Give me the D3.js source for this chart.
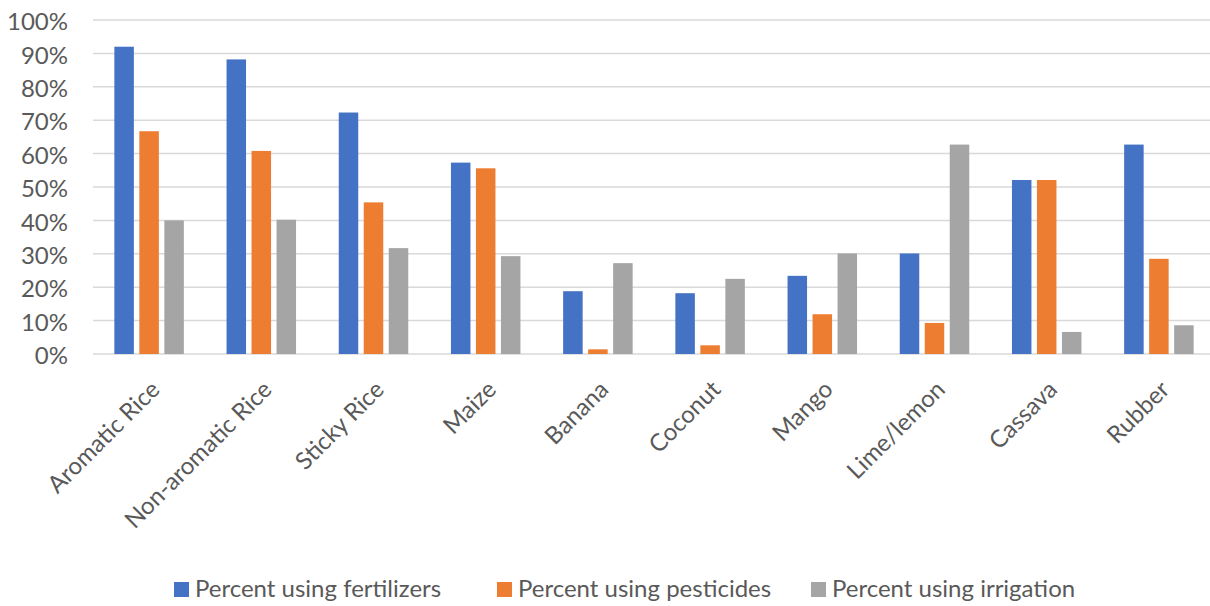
<!DOCTYPE html>
<html>
<head>
<meta charset="utf-8">
<script src="https://cdn.jsdelivr.net/npm/d3@7/dist/d3.min.js"></script>
<style>
  html, body { margin: 0; padding: 0; background: #fff; }
  svg { display: block; }
  text { font-family: Lato, "Noto Sans", sans-serif; fill: #595959; }
</style>
</head>
<body>
<svg id="chart" width="1210" height="606"></svg>
<script>
// Crops and the share of farms using each input
const crops = ["Aromatic Rice", "Non-aromatic Rice", "Sticky Rice", "Maize", "Banana",
               "Coconut", "Mango", "Lime/lemon", "Cassava", "Rubber"];
const seriesNames = ["Percent using fertilizers", "Percent using pesticides", "Percent using irrigation"];
const fertilizers = [92, 88.2, 72.3, 57.3, 18.8, 18.2, 23.4, 30.1, 52.1, 62.7];
const pesticides  = [66.7, 60.8, 45.4, 55.6, 1.4, 2.6, 11.9, 9.3, 52.1, 28.5];
const irrigation  = [40, 40.2, 31.7, 29.3, 27.2, 22.5, 30.1, 62.7, 6.6, 8.6];
const yTicks = [0, 10, 20, 30, 40, 50, 60, 70, 80, 90, 100];

const seriesValues = [fertilizers, pesticides, irrigation];
const colors = ["#4472C4", "#ED7D31", "#A5A5A5"];

const svg = d3.select("#chart");
const plot = { left: 93, right: 1215, top: 20, bottom: 354 };
const fontSize = 24;

const y = d3.scaleLinear().domain([0, 100]).range([plot.bottom, plot.top]);
const x0 = d3.scaleBand().domain(crops).range([plot.left, plot.right]);
const groupW = 69.5;
const x1 = d3.scaleBand().domain(seriesNames)
  .range([(x0.step() - groupW) / 2, (x0.step() + groupW) / 2])
  .paddingInner(0.22);

// horizontal gridlines
svg.append("g").selectAll("line").data(yTicks).join("line")
  .attr("x1", plot.left).attr("x2", plot.right)
  .attr("y1", d => y(d)).attr("y2", d => y(d))
  .attr("stroke", "#D9D9D9").attr("stroke-width", 1.5);

// y tick labels
const yAxis = d3.axisLeft(y).tickValues(yTicks).tickFormat(d => d + "%").tickSize(0).tickPadding(0);
const gy = svg.append("g").attr("transform", "translate(68,0)").call(yAxis);
gy.select(".domain").remove();
gy.selectAll("text")
  .attr("font-size", fontSize).attr("font-family", "Lato, sans-serif")
  .attr("fill", "#595959").attr("dy", "0.4em");

// bars
const groups = svg.append("g").selectAll("g").data(crops).join("g")
  .attr("transform", d => `translate(${x0(d)},0)`);
groups.selectAll("rect")
  .data((c, i) => seriesNames.map((s, k) => ({ s, k, v: seriesValues[k][i] })))
  .join("rect")
  .attr("x", d => x1(d.s))
  .attr("width", x1.bandwidth())
  .attr("y", d => y(d.v))
  .attr("height", d => y(0) - y(d.v))
  .attr("fill", d => colors[d.k]);

// category labels, rotated
svg.append("g").selectAll("text").data(crops).join("text")
  .attr("transform", d => `translate(${x0(d) + x0.bandwidth() / 2 + 12},391) rotate(-45)`)
  .attr("text-anchor", "end")
  .attr("font-size", fontSize)
  .text(d => d);

// legend
const legendX = [174, 497, 811];
const lg = svg.append("g").selectAll("g").data(seriesNames).join("g")
  .attr("transform", (d, i) => `translate(${legendX[i]},582)`);
lg.append("rect").attr("width", 15).attr("height", 15).attr("fill", (d, i) => colors[i]);
lg.append("text").attr("x", 21).attr("y", 15).attr("font-size", fontSize).text(d => d);
</script>
</body>
</html>
